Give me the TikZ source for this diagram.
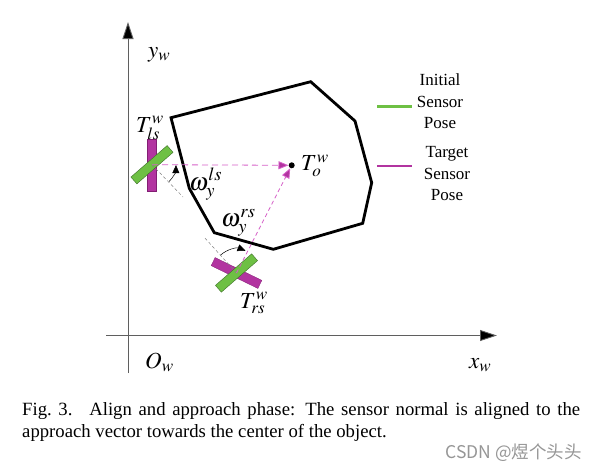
\documentclass[tikz,border=0pt]{standalone}
\usepackage{mathptmx}
\usepackage{fontspec}
\setmainfont{Liberation Serif}
\newfontfamily\cjk{Noto Sans CJK SC}
\usetikzlibrary{arrows.meta,calc}
\definecolor{sgreen}{RGB}{110,192,68}
\definecolor{sgreenb}{RGB}{60,110,40}
\definecolor{smag}{RGB}{178,52,160}
\definecolor{smagb}{RGB}{130,30,115}
\definecolor{lmag}{RGB}{214,96,200}
\definecolor{axgrey}{RGB}{95,95,95}
\definecolor{wmgrey}{RGB}{150,150,150}
\begin{document}
\begin{tikzpicture}[x=1pt,y=-1pt,
  axis/.style={draw=axgrey,line width=0.9pt,-{Triangle[length=17pt,width=11pt,fill=black]}},
  obj/.style={draw=black,line width=2.8pt},
  greenbar/.style={rectangle,fill=sgreen,draw=sgreenb,line width=0.4pt,minimum width=48pt,minimum height=9pt,inner sep=0},
  magbar/.style={rectangle,fill=smag,draw=smagb,line width=0.3pt,minimum width=52pt,minimum height=9pt,inner sep=0},
  appr/.style={draw=lmag,line width=0.8pt,-{Triangle[length=10pt,width=8pt,fill=smag]}},
  normal/.style={draw=gray,line width=0.5pt,dash pattern=on 3pt off 2.5pt},
  angarrow/.style={draw=black,line width=0.5pt,-{Triangle[length=8pt,width=7pt]}},
  lbl/.style={inner sep=0,anchor=base west,font=\fontsize{23}{26}\selectfont},
  wlbl/.style={inner sep=0,anchor=base west,font=\fontsize{25}{28}\selectfont},
  legtxt/.style={align=center,inner sep=0,font=\fontsize{17}{21.5}\selectfont},
  legline/.style={line width=2.8pt}
]
\useasboundingbox[fill=white] (0,0) rectangle (598,472);

% axes
\coordinate (ybot) at (128,373);
\coordinate (ytop) at (128,22);
\coordinate (xl) at (106,335.5);
\coordinate (xr) at (497,335.5);
\draw[axis] (ybot) -- (ytop);
\draw[axis] (xl) -- (xr);
\node[lbl] (yw) at (148,57) {$y_{w}$};
\node[lbl] (ow) at (145,368) {$O_{w}$};
\node[lbl] (xw) at (469,368) {$x_{w}$};

% object
\draw[obj] (171,117.7) -- (310.7,81.7) -- (355,121) -- (371.7,182.7) -- (362.7,223.3)
  -- (273.3,249.3) -- (214.3,232.7) -- (189.3,188.3) -- cycle;

% object centre
\node[circle,fill=black,inner sep=0,minimum size=6pt] (To) at (291.7,165.3) {};
\node[lbl] (Tolbl) at (301,170.7) {$T^{w}_{o}$};

% left sensor
\coordinate (ls) at (152,164.7);
\node[magbar,rotate=90] (lsmag) at (ls) {};
\node[greenbar,rotate=41] (lsgreen) at (ls) {};
\coordinate (lsn) at (183,197);
\draw[normal] (ls) -- (lsn);
\draw[appr,dash pattern=on 6pt off 4pt] (ls) -- (To);
\draw[angarrow] ($(ls)+(45:24)$) arc[start angle=45,end angle=1,radius=24];
\node[lbl] (Tls) at (136,132) {$T^{w}_{ls}$};
\node[wlbl] (wls) at (189,190) {$\omega^{ls}_{y}$};

% right sensor
\coordinate (rs) at (236.5,273);
\node[magbar,rotate=-26] (rsmag) at (rs) {};
\node[greenbar,rotate=41] (rsgreen) at (rs) {};
\coordinate (rsn) at (204,237);
\draw[normal] (rs) -- (rsn);
\draw[appr,dash pattern=on 4pt off 3pt] (rs) -- (To);
\draw[angarrow] ($(rs)+(-132:24)$) arc[start angle=-132,end angle=-68,radius=24];
\node[lbl] (Trs) at (240,308.3) {$T^{w}_{rs}$};
\node[wlbl] (wrs) at (221,226.7) {$\omega^{rs}_{y}$};

% legend
\coordinate (lg1a) at (377,106.7);
\coordinate (lg1b) at (412,106.7);
\coordinate (lg2a) at (377,166);
\coordinate (lg2b) at (412,166);
\draw[legline,draw=sgreen] (lg1a) -- (lg1b);
\draw[legline,draw=smag] (lg2a) -- (lg2b);
\node[legtxt] (leg1) at (440,101.5) {Initial\\Sensor\\Pose};
\node[legtxt] (leg2) at (447,174) {Target\\Sensor\\Pose};

% caption
\node[anchor=base west,inner sep=0,text width=558pt,align=justify,
  font=\fontsize{18.7}{21.3}\selectfont] (cap) at (22,415.7)
  {Fig.~3.\hspace{0.9em}Align and approach phase: The sensor normal is aligned to the\linebreak approach vector towards the center of the object.};

% watermark
\node[anchor=east,inner sep=0,text=wmgrey,font=\cjk\fontsize{17.5}{19}\selectfont] (wm) at (582,453) {CSDN @煜个头头};
\end{tikzpicture}
\end{document}
